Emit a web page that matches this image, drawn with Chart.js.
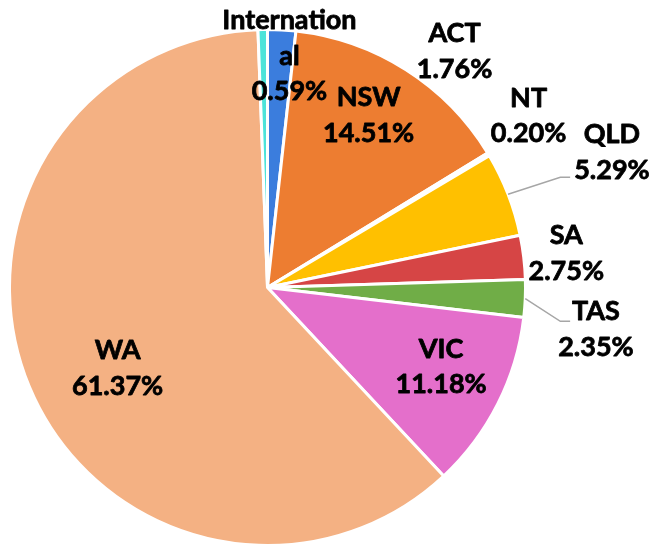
<!DOCTYPE html>
<html>
<head>
<meta charset="utf-8">
<script src="https://cdn.jsdelivr.net/npm/chart.js@4"></script>
<style>
html,body{margin:0;padding:0;background:#fff;}
#c{display:block;}
</style>
</head>
<body>
<canvas id="c" width="658" height="548"></canvas>
<script>
// ---- data ----
const categories = ['ACT','NSW','NT','QLD','SA','TAS','VIC','WA','International'];
const shares = [1.76, 14.51, 0.20, 5.29, 2.75, 2.35, 11.18, 61.37, 0.59];
const nameLines = [['ACT'],['NSW'],['NT'],['QLD'],['SA'],['TAS'],['VIC'],['WA'],['Internation','al']];
const colors = ['#3b7ddd','#ed7d31','#f4f4f4','#ffc000','#d64545','#70ad47','#e46fcb','#f4b183','#4de3d9'];

// label placement relative to pie centre, in units of the pie radius
const labelPos = [
  [0.725,-0.915],[0.392,-0.667],[1.012,-0.665],[1.335,-0.525],[1.158,-0.133],
  [1.273,0.162],[0.673,0.308],[-0.581,0.313],[0.085,-0.898]
];
// leader lines: [elbow, end] relative to centre, in radius units (null = none)
const leaders = [null,null,null,[[1.135,-0.427],[1.173,-0.427]],null,[[1.135,0.131],[1.173,0.131]],null,null,null];

const FONT = 'bold 27px Lato, "Open Sans", sans-serif';
const LINE_H = 35.5;

const labelPlugin = {
  id: 'pieLabels',
  afterDatasetsDraw(chart) {
    const ctx = chart.ctx;
    const meta = chart.getDatasetMeta(0);
    const first = meta.data[0];
    const cx = first.x, cy = first.y, R = first.outerRadius;
    ctx.save();
    ctx.strokeStyle = '#a6a6a6';
    ctx.lineWidth = 1.5;
    meta.data.forEach((arc, i) => {
      const L = leaders[i];
      if (!L) return;
      const a = (arc.startAngle + arc.endAngle) / 2;
      ctx.beginPath();
      ctx.moveTo(cx + R * Math.cos(a), cy + R * Math.sin(a));
      ctx.lineTo(cx + L[0][0] * R, cy + L[0][1] * R);
      ctx.lineTo(cx + L[1][0] * R, cy + L[1][1] * R);
      ctx.stroke();
    });
    ctx.font = FONT;
    ctx.fillStyle = '#000';
    ctx.strokeStyle = '#000';
    ctx.lineWidth = 0.8;
    ctx.lineJoin = 'round';
    ctx.textAlign = 'center';
    ctx.textBaseline = 'middle';
    categories.forEach((c, i) => {
      const lines = nameLines[i].concat([shares[i].toFixed(2) + '%']);
      const x = cx + labelPos[i][0] * R;
      const y = cy + labelPos[i][1] * R;
      const top = y - (lines.length - 1) * LINE_H / 2;
      lines.forEach((t, k) => {
        ctx.fillText(t, x, top + k * LINE_H);
        ctx.strokeText(t, x, top + k * LINE_H);
      });
    });
    ctx.restore();
  }
};

new Chart(document.getElementById('c'), {
  type: 'pie',
  data: {
    labels: categories,
    datasets: [{
      data: shares,
      backgroundColor: colors,
      borderColor: '#ffffff',
      borderWidth: 3
    }]
  },
  options: {
    responsive: false,
    animation: false,
    layout: { padding: { left: 8, top: 27, right: 131, bottom: 0 } },
    plugins: { legend: { display: false }, tooltip: { enabled: false } }
  },
  plugins: [labelPlugin]
});
</script>
</body>
</html>
